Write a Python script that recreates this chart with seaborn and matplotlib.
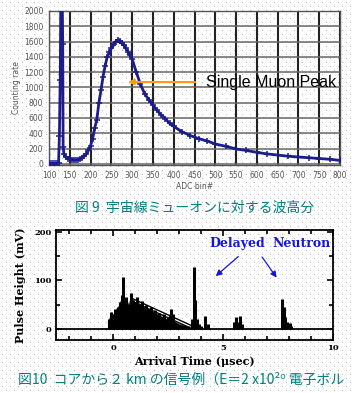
import numpy as np
import pandas as pd
import matplotlib
matplotlib.use("Agg")
import matplotlib.pyplot as plt
from matplotlib.ticker import MultipleLocator
import seaborn as sns

# ---- Fig. 9 : pulse height spectrum of cosmic-ray muons ----
adc_bin = [100, 105, 110, 115, 120, 123, 125, 127, 129, 131, 133, 134, 136, 140, 145,
           150, 155, 160, 165, 170, 175, 180, 185, 190, 195, 200, 205, 210, 215, 220,
           225, 230, 235, 240, 245, 250, 255, 260, 265, 270, 275, 280, 285, 290, 295,
           300, 310, 320, 330, 340, 350, 360, 370, 380, 390, 400, 420, 440, 460, 480,
           500, 525, 550, 575, 600, 625, 650, 675, 700, 725, 750, 775, 800]
count_rate = [5, 5, 5, 5, 5, 10, 370, 1100, 2600, 2600, 1570, 220, 130, 90, 70,
              60, 55, 50, 50, 55, 65, 80, 100, 130, 180, 240, 330, 470, 580, 800,
              960, 1140, 1280, 1400, 1460, 1510, 1550, 1600, 1620, 1610, 1580, 1550, 1510, 1470, 1420,
              1370, 1200, 1040, 920, 840, 770, 700, 640, 590, 530, 490, 420, 370, 330, 300,
              260, 230, 195, 175, 150, 130, 115, 100, 90, 80, 70, 60, 45]

# ---- Fig. 10 : signal 2 km from the core ----
pulse_t = [-0.2, -0.1, 0.0, 0.1, 0.2, 0.3, 0.4, 0.45, 0.5, 0.6, 0.7, 0.8, 0.9, 1.0, 1.1,
           1.2, 1.3, 1.4, 1.5, 1.6, 1.7, 1.8, 1.9, 2.0, 2.1, 2.2, 2.3, 2.4, 2.5, 2.65,
           2.7, 2.8, 2.9, 3.0, 3.2, 3.4, 3.6, 3.66, 3.72, 3.8, 3.9, 4.0, 4.2, 4.3, 5.5,
           5.58, 5.65, 5.78, 5.85, 7.7, 7.75, 7.8, 7.9, 8.05, 8.1]
pulse_h = [20, 35, 30, 40, 45, 55, 70, 106, 60, 65, 50, 75, 60, 55, 65,
           50, 58, 45, 50, 40, 45, 35, 38, 30, 33, 25, 30, 20, 25, 41,
           30, 15, 12, 10, 8, 5, 20, 128, 60, 20, 10, 5, 27, 10, 15,
           25, 15, 26, 10, 61, 45, 25, 15, 12, 5]
envelope_t = [0.9, 3.6]
envelope_h = [62, 6]

spec = pd.DataFrame({"adc": adc_bin, "rate": count_rate})
pulse = pd.DataFrame({"t": pulse_t, "h": pulse_h})

W, H = 354, 393
fig = plt.figure(figsize=(W / 100, H / 100), dpi=100)
fig.patch.set_facecolor("white")

# dotted page background
bg = np.ones((H, W, 3))
rr, cc = np.mgrid[0:H, 0:W]
dots = ((rr % 8 == 2) & (cc % 8 == 2)) | ((rr % 8 == 6) & (cc % 8 == 6))
bg[dots] = 0.72
fig.figimage(bg, xo=0, yo=0, zorder=-1)

# ---------- top chart ----------
navy = "#1c1c8a"
ax1 = fig.add_axes([49 / W, 1 - 165 / H, 291 / W, 154 / H])
ax1.set_facecolor("none")
sns.lineplot(data=spec, x="adc", y="rate", ax=ax1, color=navy, lw=2.0,
             marker="+", markersize=4, markeredgewidth=1.1,
             markeredgecolor=navy, zorder=3)
ax1.set_xlim(100, 800)
ax1.set_ylim(-15, 2000)
ax1.xaxis.set_major_locator(MultipleLocator(50))
ax1.yaxis.set_major_locator(MultipleLocator(200))
ax1.grid(axis="x", color="#222222", lw=1.5)
ax1.grid(axis="y", color="#666666", lw=1.1)
ax1.tick_params(length=0, labelsize=5.5, labelcolor="#555555", pad=4)
for s in ax1.spines.values():
    s.set_color("#555555")
    s.set_linewidth(1.0)
ax1.set_xlabel("ADC bin#", fontsize=5.5, color="#555555", labelpad=2)
ax1.set_ylabel("Counting rate", fontsize=5.5, color="#555555", labelpad=2)
ax1.annotate("", xy=(283, 1070), xytext=(458, 1070),
             arrowprops=dict(arrowstyle="-|>", color="#ff9a1a", lw=1.6,
                             mutation_scale=8))
ax1.text(478, 1065, "Single Muon Peak", fontsize=11.5, family="Liberation Sans",
         va="center", ha="left", color="black", clip_on=False)

# ---------- bottom chart ----------
serif = "DejaVu Serif"
ax2 = fig.add_axes([56 / W, 1 - 340 / H, 277 / W, 110 / H])
ax2.set_facecolor("none")
blob = pulse[pulse["t"] <= 3.4]
ax2.fill_between(blob["t"], 0, blob["h"], color="black", lw=0, zorder=2)
ax2.vlines(pulse["t"], 0, pulse["h"], color="black", lw=2.2, zorder=2)
sns.lineplot(x=envelope_t, y=envelope_h, ax=ax2, color="black", lw=1.0, zorder=3)
sns.lineplot(x=envelope_t, y=[h - 6 for h in envelope_h], ax=ax2, color="black",
             lw=1.0, zorder=3)
ax2.axhline(0, color="black", lw=1.3, zorder=3)
ax2.set_xlim(-2.6, 10)
ax2.set_ylim(-23, 204)
ax2.xaxis.set_major_locator(MultipleLocator(5))
ax2.xaxis.set_minor_locator(MultipleLocator(1))
ax2.yaxis.set_major_locator(MultipleLocator(100))
ax2.yaxis.set_minor_locator(MultipleLocator(50))
ax2.tick_params(which="both", direction="in", top=True, right=True, width=1.2)
ax2.tick_params(which="major", length=4, labelsize=6, pad=3)
ax2.tick_params(which="minor", length=3)
for lab in ax2.get_xticklabels() + ax2.get_yticklabels():
    lab.set_family(serif)
    lab.set_fontweight("bold")
for s in ax2.spines.values():
    s.set_linewidth(1.3)
ax2.set_xlabel("Arrival Time (\u03bcsec)", fontsize=8, family=serif,
               fontweight="bold", labelpad=3)
ax2.set_ylabel("Pulse Height (mV)", fontsize=8, family=serif, fontweight="bold",
               labelpad=6)
ax2.text(4.4, 177, "Delayed", fontsize=9, family=serif, fontweight="bold",
         color="#1414e6", va="center")
ax2.text(7.25, 177, "Neutron", fontsize=9, family=serif, fontweight="bold",
         color="#1414e6", va="center")
arrow_kw = dict(arrowstyle="-|>", color="#1414e6", lw=0.9, mutation_scale=9)
ax2.annotate("", xy=(4.57, 105), xytext=(5.79, 153), arrowprops=arrow_kw)
ax2.annotate("", xy=(7.51, 101), xytext=(6.70, 153), arrowprops=arrow_kw)

# ---------- captions ----------
cjk = ["Noto Sans CJK JP", "DejaVu Sans"]
fig.text(75 / W, 1 - 208 / H, "図 9  宇宙線ミューオンに対する波高分", fontsize=10,
         family=cjk, color="#008080", va="center", ha="left")
fig.text(18 / W, 1 - 380 / H, "図10  コアから２ km の信号例（E＝2 x10²⁰ 電子ボル",
         fontsize=10, family=cjk, color="#008080", va="center", ha="left")

fig.savefig("out.png", dpi=100)
